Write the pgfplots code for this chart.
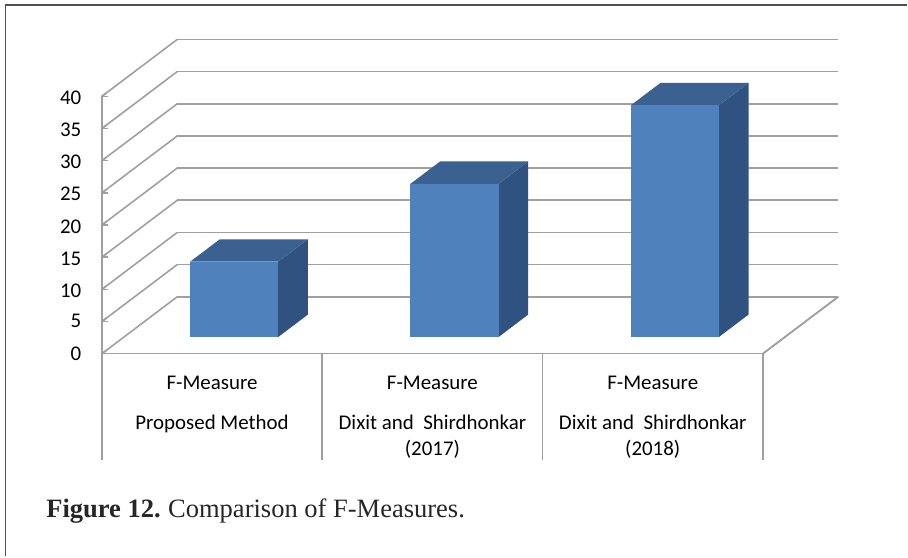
\documentclass[border=0pt]{standalone}
\usepackage{fontspec}
\setmainfont{Carlito}
\newfontfamily\capfont{Liberation Serif}
\usepackage{pgfplots}
\pgfplotsset{compat=1.18}
\definecolor{barfront}{HTML}{4F81BD}
\definecolor{bartop}{HTML}{3A6190}
\definecolor{barside}{HTML}{2F5280}
\definecolor{gridc}{HTML}{A0A0A0}
\definecolor{framec}{HTML}{505050}

% depth runs from 0 (front) to 1 (back wall), bars stand at depth 0.293 to 0.686
\newcommand{\drawbar}[2]{% left edge, value
  \pgfmathsetmacro{\xr}{#1+0.4}
  \addplot3[fill=barside,draw=none,forget plot] coordinates {(\xr,0.293,0) (\xr,0.686,0) (\xr,0.686,#2) (\xr,0.293,#2)} -- cycle;
  \addplot3[fill=bartop,draw=none,forget plot] coordinates {(#1,0.293,#2) (\xr,0.293,#2) (\xr,0.686,#2) (#1,0.686,#2)} -- cycle;
  \addplot3[fill=barfront,draw=none,forget plot] coordinates {(#1,0.293,0) (\xr,0.293,0) (\xr,0.293,#2) (#1,0.293,#2)} -- cycle;
}

\begin{document}
\begin{tikzpicture}
\begin{axis}[
    x={(165.4pt,0pt)}, y={(56.6pt,42.75pt)}, z={(0pt,4.83pt)},
    xmin=0, xmax=3, ymin=0, ymax=1, zmin=0, zmax=40,
    clip=false,
    axis lines*=left,
    axis line style={gridc, line width=1.2pt},
    xtick={0.5,1.5,2.5},
    xticklabels={
      {F-Measure\\[10pt]Proposed Method},
      {F-Measure\\[10pt]Dixit and\ \ Shirdhonkar\\(2017)},
      {F-Measure\\[10pt]Dixit and\ \ Shirdhonkar\\(2018)}},
    ytick=\empty,
    ztick={0,5,...,40},
    zmajorgrids=true,
    grid style={gridc, line width=1.2pt},
    major tick length=4.5pt,
    tick style={gridc, line width=1.2pt},
    x tick style={draw=none},
    every x tick label/.append style={align=center, anchor=north, yshift=-13pt},
    every z tick label/.append style={xshift=-12pt, yshift=2.8pt},
    tick label style={font=\fontsize{15.7}{20}\selectfont, text=black},
    /pgf/number format/assume math mode=true,
]
% floor edges and category separators
\addplot3[gridc,line width=1.2pt,forget plot] coordinates {(3,0,0) (3,1,0)};
\addplot3[gridc,line width=1.2pt,forget plot] coordinates {(0,0,0) (3,0,0)};
\addplot3[gridc,line width=1.2pt,forget plot] coordinates {(0,0,0) (0,0,-16.57)};
\addplot3[gridc,line width=1.2pt,forget plot] coordinates {(1,0,0) (1,0,-16.57)};
\addplot3[gridc,line width=1.2pt,forget plot] coordinates {(2,0,0) (2,0,-16.57)};
\addplot3[gridc,line width=1.2pt,forget plot] coordinates {(3,0,0) (3,0,-16.57)};
% bars
\drawbar{0.3}{11.7}
\drawbar{1.3}{23.8}
\drawbar{2.3}{36.0}
% picture extent, outer frame, caption
\path (axis cs:-0.4625,0,-31.52) rectangle (axis cs:3.655,0,54.97);
\draw[framec,line width=1.2pt] (axis cs:-0.4375,0,-31.52) -- (axis cs:-0.4375,0,54.2) -- (axis cs:3.655,0,54.2);
\node[anchor=base west,inner sep=0pt,font=\fontsize{19.9}{22}\selectfont\capfont,text=black!85] at (axis cs:-0.2535,0,-25.5) {\textbf{Figure 12.}\hspace{-1pt} Comparison of F-Measures.};
\end{axis}
\end{tikzpicture}
\end{document}
